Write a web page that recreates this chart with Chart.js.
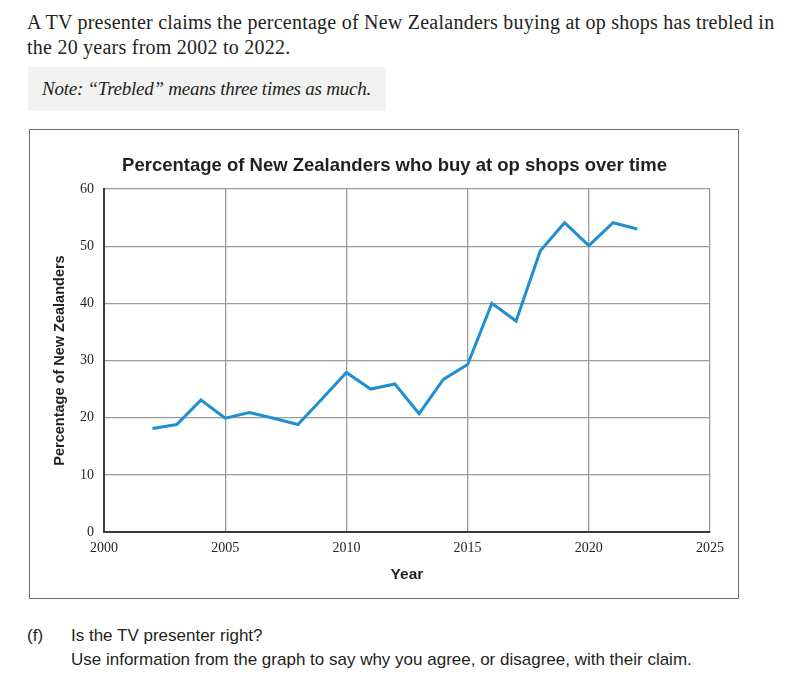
<!DOCTYPE html>
<html lang="en">
<head>
    <meta charset="UTF-8">
    <title>Op shop chart</title>
    <script src="https://cdn.jsdelivr.net/npm/chart.js"></script>
    <style>
        body { margin: 0; background: #fff; width: 794px; height: 688px; position: relative; overflow: hidden; color: #231f20; }
        .serif { font-family: "Liberation Serif", serif; }
        .sans { font-family: "Liberation Sans", Arial, sans-serif; }
        #intro { position: absolute; left: 27px; top: 10px; font-size: 20px; letter-spacing: 0.24px; line-height: 24.5px; white-space: nowrap; }
        #note { position: absolute; left: 28px; top: 67px; width: 358px; height: 44px; background: #f2f2f2; }
        #note span { position: absolute; left: 14px; top: 0; font-size: 19px; letter-spacing: -0.24px; line-height: 44px; font-style: italic; white-space: nowrap; }
        #frame { position: absolute; left: 29px; top: 129px; width: 710px; height: 470px; box-sizing: border-box; border: 1.5px solid #6d6d6d; }
        #chartWrap { position: absolute; left: 30px; top: 130px; }
        #question { position: absolute; left: 27px; top: 624px; font-size: 17px; line-height: 24px; }
        #question .num { position: absolute; left: 0; top: 0; }
        #question .txt { position: absolute; left: 44px; top: 0; white-space: nowrap; }
    </style>
</head>
<body>
    <div id="intro" class="serif">A TV presenter claims the percentage of New Zealanders buying at op shops has trebled in<br>the 20 years from 2002 to 2022.</div>
    <div id="note" class="serif"><span>Note: “Trebled” means three times as much.</span></div>

    <div id="frame"></div>
    <div id="chartWrap">
        <canvas id="opChart" width="710" height="468"></canvas>
    </div>

    <div id="question" class="sans">
        <div class="num">(f)</div>
        <div class="txt">Is the TV presenter right?<br>Use information from the graph to say why you agree, or disagree, with their claim.</div>
    </div>

    <script>
        // valores
        const years = [2002, 2003, 2004, 2005, 2006, 2007, 2008, 2009, 2010, 2011, 2012,
                       2013, 2014, 2015, 2016, 2017, 2018, 2019, 2020, 2021, 2022];
        const percentages = [18.1, 18.8, 23.1, 19.9, 20.9, 19.9, 18.8, 23.3, 27.9, 25.0, 25.9,
                             20.7, 26.7, 29.3, 40.0, 36.9, 49.2, 54.1, 50.1, 54.1, 53.0];
        const yTicks = [0, 10, 20, 30, 40, 50, 60];
        const xTicks = [2000, 2005, 2010, 2015, 2020, 2025];

        const points = years.map((yr, i) => ({ x: yr, y: percentages[i] }));

        const serifFont = { family: '"Liberation Serif", serif', size: 14 };
        const sansFamily = '"Liberation Sans", Arial, sans-serif';
        const gridColor = '#9c9c9c';
        const axisColor = '#3a3a3a';

        // el título se centra sobre 79..710, por eso el eje y es estrecho y su título se desplaza
        const ctx = document.getElementById('opChart').getContext('2d');
        new Chart(ctx, {
            type: 'line',
            data: {
                datasets: [{
                    label: 'Percentage',
                    data: points,
                    borderColor: '#1e90d2',
                    borderWidth: 3,
                    pointRadius: 0,
                    tension: 0,
                    fill: false
                }]
            },
            options: {
                responsive: false,
                animation: false,
                devicePixelRatio: 1,
                layout: { padding: { left: 49, right: 30, top: 0, bottom: 0 } },
                plugins: {
                    legend: { display: false },
                    tooltip: { enabled: false },
                    title: {
                        display: true,
                        text: 'Percentage of New Zealanders who buy at op shops over time',
                        color: '#231f20',
                        font: { family: sansFamily, size: 18.5, weight: 'bold' },
                        padding: { top: 24.6, bottom: 12.2 }
                    }
                },
                scales: {
                    x: {
                        type: 'linear',
                        min: xTicks[0],
                        max: xTicks[xTicks.length - 1],
                        afterBuildTicks: (scale) => { scale.ticks = xTicks.map(v => ({ value: v })); },
                        afterFit: (scale) => { scale.height = 66; },
                        ticks: {
                            color: '#231f20',
                            font: serifFont,
                            padding: 8,
                            maxRotation: 0,
                            callback: (v) => String(v)
                        },
                        grid: { color: gridColor, lineWidth: 1.3, drawTicks: false },
                        border: { color: axisColor, width: 2 },
                        title: {
                            display: true,
                            text: 'Year',
                            color: '#231f20',
                            font: { family: sansFamily, size: 15.5, weight: 'bold' },
                            padding: { top: 0, bottom: 13.7 }
                        }
                    },
                    y: {
                        min: yTicks[0],
                        max: yTicks[yTicks.length - 1],
                        afterBuildTicks: (scale) => { scale.ticks = yTicks.map(v => ({ value: v })); },
                        afterFit: (scale) => { scale.width = 25; },
                        ticks: {
                            color: '#231f20',
                            font: serifFont,
                            padding: 10
                        },
                        grid: { color: gridColor, lineWidth: 1.3, drawTicks: false },
                        border: { color: axisColor, width: 2 },
                        title: {
                            display: true,
                            text: 'Percentage of New Zealanders',
                            color: '#231f20',
                            font: { family: sansFamily, size: 14.5, weight: 'bold' },
                            padding: { top: -27.7, bottom: 0 }
                        }
                    }
                }
            }
        });
    </script>
</body>
</html>
